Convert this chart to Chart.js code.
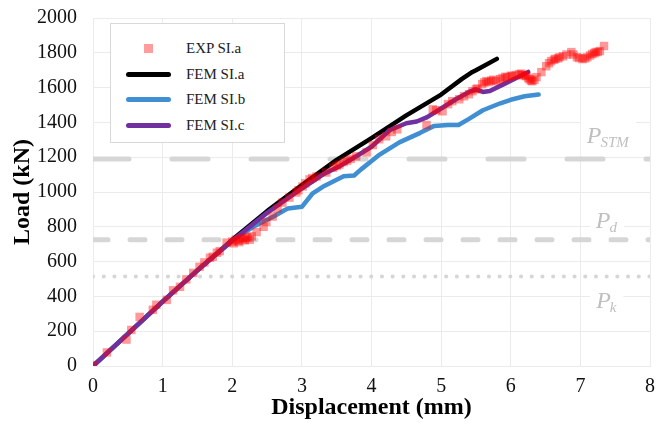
<!DOCTYPE html>
<html>
<head>
<meta charset="utf-8">
<script src="https://cdn.jsdelivr.net/npm/chart.js@4.4.1/dist/chart.umd.min.js"></script>
<style>
    body { margin: 0; background: #fff; }
    .wrap { position: relative; width: 656px; height: 430px; }
    .legend-box {
        position: absolute; left: 110px; top: 23px; width: 173px; height: 118px;
        background: #fff; border: 1px solid #d9d9d9; box-sizing: content-box;
        font-family: 'Liberation Serif', serif; font-size: 15px; color: #222;
    }
    .legend-row { position: absolute; left: 0; height: 20px; display: flex; align-items: center; }
    .legend-mark { width: 75px; display: flex; justify-content: center; align-items: center; }
    .legend-line { width: 45px; height: 5px; border-radius: 3px; }
    .legend-square { width: 9px; height: 9px; background: rgba(255, 60, 60, 0.5); }
</style>
</head>
<body>
<div class="wrap">
    <canvas id="loadChart" width="656" height="430"></canvas>
    <div class="legend-box" id="legendBox"></div>
</div>
<script>
const expX = [0, 0.2, 0.48, 0.55, 0.67, 0.86, 0.91, 1.06, 1.15, 1.25, 1.34, 1.44, 1.53, 1.6, 1.68, 1.72, 1.78, 1.82, 1.92,
    2.0, 2.02, 2.05, 2.08, 2.1, 2.12, 2.15, 2.18, 2.2, 2.22, 2.25, 2.28, 2.35, 2.45, 2.49, 2.58, 2.65, 2.72, 2.82, 2.92, 2.95,
    3.01, 3.05, 3.11, 3.15, 3.21, 3.35, 3.45, 3.5, 3.54, 3.6, 3.65, 3.7, 3.78, 3.93,
    4.02, 4.11, 4.21, 4.29, 4.37, 4.79, 4.88, 4.93,
    5.02, 5.1, 5.16, 5.26, 5.33, 5.4, 5.45, 5.5, 5.52, 5.59, 5.62, 5.65, 5.68, 5.72, 5.75, 5.79, 5.85, 5.88, 5.92, 5.95,
    6.0, 6.02, 6.07, 6.12, 6.15, 6.17, 6.2, 6.22, 6.25, 6.27, 6.29, 6.31, 6.34, 6.37, 6.44, 6.51, 6.55, 6.58, 6.62, 6.64, 6.68, 6.7, 6.75, 6.8, 6.87, 6.9, 6.95, 6.98,
    7.03, 7.07, 7.1, 7.14, 7.17, 7.2, 7.22, 7.25, 7.28, 7.34];
const expY = [5, 78, 152, 207, 282, 323, 352, 380, 435, 455, 498, 535, 570, 595, 622, 628, 651, 660, 709,
    715, 705, 726, 720, 712, 735, 728, 722, 737, 740, 726, 745, 770, 800, 828, 859, 905, 939, 968, 997, 1010,
    1032, 1050, 1072, 1080, 1089, 1112, 1140, 1150, 1158, 1172, 1180, 1190, 1205, 1228,
    1270, 1303, 1320, 1345, 1360, 1385, 1475, 1470,
    1464, 1505, 1522, 1533, 1550, 1562, 1579, 1590, 1595, 1620, 1630, 1637, 1632, 1640, 1645, 1637, 1648, 1655, 1662, 1660,
    1668, 1666, 1672, 1677, 1680, 1672, 1670, 1666, 1655, 1648, 1640, 1637, 1645, 1660, 1689, 1723, 1740, 1752, 1760, 1765, 1768, 1775, 1780, 1790, 1804, 1790, 1775, 1770,
    1764, 1768, 1775, 1785, 1793, 1798, 1804, 1805, 1810, 1839];

const femAX = [0, 0.5, 1, 1.5, 2, 2.5, 3, 3.5, 4, 4.5, 5, 5.3, 5.45, 5.5, 5.8];
const femAY = [0, 185, 370, 550, 725, 890, 1040, 1185, 1310, 1440, 1560, 1650, 1690, 1700, 1765];

const femBX = [0, 0.5, 1, 1.5, 2, 2.3, 2.6, 2.75, 2.8, 3.0, 3.15, 3.3, 3.45, 3.6, 3.75, 3.85, 4.1, 4.4, 4.7, 4.9, 5.1, 5.25, 5.4, 5.6, 5.85, 6.0, 6.2, 6.4];
const femBY = [0, 185, 370, 550, 720, 800, 860, 895, 905, 915, 990, 1030, 1060, 1090, 1095, 1130, 1210, 1285, 1340, 1380, 1385, 1385, 1420, 1470, 1510, 1530, 1550, 1560];

const femCX = [0, 0.5, 1, 1.5, 2, 2.5, 3, 3.3, 3.55, 3.8, 4.0, 4.26, 4.5, 4.65, 4.8, 5.0, 5.2, 5.4, 5.5, 5.6, 5.7, 5.9, 6.1, 6.25];
const femCY = [0, 185, 370, 550, 720, 880, 1020, 1100, 1150, 1210, 1260, 1355, 1395, 1405, 1430, 1480, 1530, 1575, 1590, 1575, 1580, 1620, 1660, 1690];

const refNames = ['STM', 'd', 'k'];
const refLoads = [1190, 725, 515];
const xTicks = [0, 1, 2, 3, 4, 5, 6, 7, 8];
const yTicks = [0, 200, 400, 600, 800, 1000, 1200, 1400, 1600, 1800, 2000];

document.addEventListener('DOMContentLoaded', function() {

    const serif = '"Liberation Serif", "Times New Roman", serif';
    const toPoints = (xs, ys) => xs.map((x, i) => ({ x: x, y: ys[i] }));

    const refLine = (load, dash, width) => ({
        label: 'ref',
        data: [{ x: 0, y: load }, { x: 8, y: load }],
        borderColor: '#d6d6d6',
        borderWidth: width,
        borderDash: dash,
        borderCapStyle: 'round',
        pointRadius: 0,
        showLine: true,
        order: 10
    });

    const femLine = (label, xs, ys, color, order) => ({
        label: label,
        data: toPoints(xs, ys),
        borderColor: color,
        backgroundColor: color,
        borderWidth: 4.5,
        borderJoinStyle: 'round',
        borderCapStyle: 'round',
        pointRadius: 0,
        showLine: true,
        order: order
    });

    // P labels beside the dashed lines, with white behind like the original
    const refLabels = {
        id: 'refLabels',
        beforeDatasetsDraw(chart) {
            const ctx = chart.ctx;
            const xs = chart.scales.x, ys = chart.scales.y;
            const spots = [[7.4, 1315], [7.38, 830], [7.38, 365]];
            ctx.save();
            refNames.forEach((sub, i) => {
                const cx = xs.getPixelForValue(spots[i][0]);
                const cy = ys.getPixelForValue(spots[i][1]);
                ctx.font = 'italic 24px ' + serif;
                const pw = ctx.measureText('P').width;
                ctx.font = 'italic 15px ' + serif;
                const sw = ctx.measureText(sub).width;
                const total = pw + sw;
                const left = cx - total / 2;
                ctx.fillStyle = '#fff';
                ctx.fillRect(left - 6, cy - 16, total + 12, 34);
                ctx.fillStyle = '#bfbfbf';
                ctx.textBaseline = 'alphabetic';
                ctx.font = 'italic 24px ' + serif;
                ctx.fillText('P', left, cy + 6);
                ctx.font = 'italic 15px ' + serif;
                ctx.fillText(sub, left + pw - 1, cy + 10);
            });
            ctx.restore();
        }
    };

    const ctx = document.getElementById('loadChart').getContext('2d');
    const chart = new Chart(ctx, {
        type: 'scatter',
        data: {
            datasets: [
                {
                    label: 'EXP SI.a',
                    data: toPoints(expX, expY),
                    pointStyle: 'rect',
                    pointRadius: 6,
                    pointBorderWidth: 0,
                    backgroundColor: 'rgba(255, 0, 0, 0.4)',
                    borderColor: 'rgba(255, 0, 0, 0)',
                    showLine: false,
                    order: 0
                },
                femLine('FEM SI.a', femAX, femAY, '#000000', 3),
                femLine('FEM SI.b', femBX, femBY, '#3f8fd2', 2),
                femLine('FEM SI.c', femCX, femCY, '#7030a0', 1),
                refLine(refLoads[0], [36, 43], 5),
                refLine(refLoads[1], [15, 22], 5),
                refLine(refLoads[2], [0.1, 10.6], 4)
            ]
        },
        options: {
            responsive: false,
            animation: false,
            layout: { padding: { left: 8, right: 5, top: 18, bottom: 8 } },
            plugins: {
                legend: { display: false },
                tooltip: { enabled: false }
            },
            scales: {
                x: {
                    type: 'linear',
                    min: 0,
                    max: 8,
                    afterBuildTicks: s => { s.ticks = xTicks.map(v => ({ value: v })); },
                    afterFit: s => {
                        s.height = 430 - 366 - 8;
                        s.paddingLeft = 0;
                        s.paddingRight = 0;
                    },
                    grid: { color: '#ebebeb', drawTicks: false },
                    border: { color: '#ebebeb' },
                    ticks: {
                        color: '#111',
                        padding: 9,
                        callback: v => String(v),
                        font: { family: serif, size: 20 }
                    },
                    title: {
                        display: true,
                        text: 'Displacement (mm)',
                        color: '#000',
                        padding: { top: 0, bottom: 0 },
                        font: { family: serif, size: 24, weight: 'bold' }
                    }
                },
                y: {
                    min: 0,
                    max: 2000,
                    afterBuildTicks: s => { s.ticks = yTicks.map(v => ({ value: v })); },
                    afterFit: s => {
                        s.width = 93 - 8;
                        s.paddingTop = 0;
                        s.paddingBottom = 0;
                    },
                    grid: { color: '#ebebeb', drawTicks: false },
                    border: { color: '#ebebeb' },
                    ticks: {
                        color: '#111',
                        padding: 16,
                        callback: v => String(v),
                        font: { family: serif, size: 20 }
                    },
                    title: {
                        display: true,
                        text: 'Load (kN)',
                        color: '#000',
                        padding: { top: 0, bottom: 0 },
                        font: { family: serif, size: 24, weight: 'bold' }
                    }
                }
            }
        },
        plugins: [refLabels]
    });

    const buildLegend = () => {
        const box = document.getElementById('legendBox');
        const rows = [0, 1, 2, 3];
        const tops = [14, 40, 65, 91];
        rows.forEach((idx, r) => {
            const ds = chart.data.datasets[idx];
            const row = document.createElement('div');
            row.className = 'legend-row';
            row.style.top = tops[r] + 'px';
            const mark = document.createElement('div');
            mark.className = 'legend-mark';
            const sym = document.createElement('div');
            if (ds.showLine) {
                sym.className = 'legend-line';
                sym.style.background = ds.borderColor;
            } else {
                sym.className = 'legend-square';
            }
            mark.appendChild(sym);
            const text = document.createElement('span');
            text.textContent = ds.label;
            row.appendChild(mark);
            row.appendChild(text);
            box.appendChild(row);
        });
    };

    buildLegend();
});
</script>
</body>
</html>
